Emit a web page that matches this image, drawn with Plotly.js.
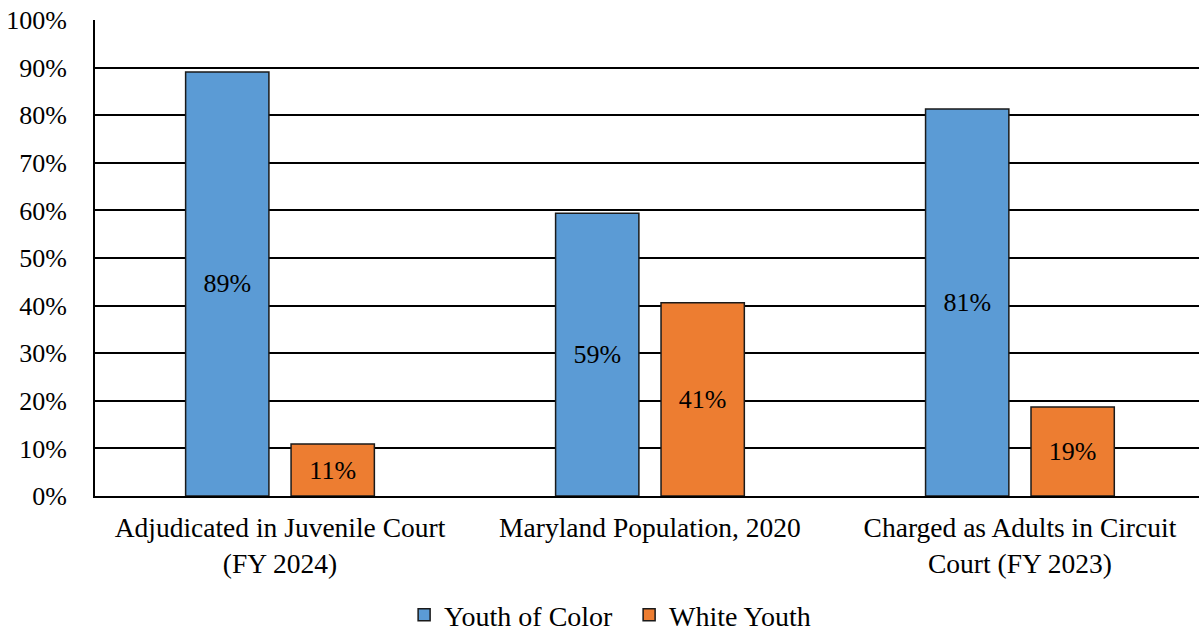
<!DOCTYPE html>
<html>
<head>
<meta charset="utf-8">
<script src="https://cdn.plot.ly/plotly-3.0.1.min.js"></script>
<style>html,body{margin:0;padding:0;background:#fff;}#chart{width:1199px;height:631px;}</style>
</head>
<body>
<div id="chart"></div>
<script>
const categories = ["Adjudicated in Juvenile Court<br>(FY 2024)", "Maryland Population, 2020", "Charged as Adults in Circuit<br>Court (FY 2023)"];
const youthOfColor = [89.1, 59.4, 81.3];
const whiteYouth = [10.9, 40.6, 18.7];
const yTicks = [0, 10, 20, 30, 40, 50, 60, 70, 80, 90, 100];
const yTickLabels = yTicks.map(v => v + "%");

const fontFam = "Liberation Serif";

const traces = [
  {
    type: "bar", name: "Youth of Color", x: categories, y: youthOfColor,
    marker: {color: "#5B9BD5", line: {color: "#1a1a1a", width: 1.5}},
    texttemplate: "%{y:.0f}%", textposition: "inside", insidetextanchor: "middle",
    textfont: {family: fontFam, size: 26, color: "#000"}, constraintext: "none", cliponaxis: false
  },
  {
    type: "bar", name: "White Youth", x: categories, y: whiteYouth,
    marker: {color: "#ED7D31", line: {color: "#1a1a1a", width: 1.5}},
    texttemplate: "%{y:.0f}%", textposition: "inside", insidetextanchor: "middle",
    textfont: {family: fontFam, size: 26, color: "#000"}, constraintext: "none", cliponaxis: false
  }
];

const layout = {
  width: 1199, height: 631,
  margin: {l: 95, r: 0, t: 20, b: 135, pad: 0, autoexpand: false},
  paper_bgcolor: "#fff", plot_bgcolor: "#fff",
  font: {family: fontFam, size: 26, color: "#000"},
  barmode: "group", bargap: 0.43, bargroupgap: 0.21,
  showlegend: true,
  legend: {orientation: "h", x: 0.28, xanchor: "left", y: -0.25, yanchor: "middle",
           entrywidth: 180, entrywidthmode: "pixels",
           font: {family: fontFam, size: 28, color: "#000"}, itemwidth: 30, tracegroupgap: 0},
  xaxis: {
    type: "category", range: [-0.5, 2.484], showgrid: false, zeroline: false, automargin: false,
    showline: true, linecolor: "#000", linewidth: 2,
    ticks: "", tickfont: {family: fontFam, size: 27.5, color: "#000"}, ticklabelstandoff: 6
  },
  yaxis: {
    range: [0, 100], tickvals: yTicks, ticktext: yTickLabels, automargin: false,
    showgrid: true, gridcolor: "#000", gridwidth: 2, zeroline: false,
    showline: true, linecolor: "#000", linewidth: 2,
    ticks: "", tickfont: {family: fontFam, size: 26, color: "#000"}, ticklabelstandoff: 21
  }
};

Plotly.newPlot("chart", traces, layout, {displayModeBar: false, staticPlot: true});
</script>
</body>
</html>
